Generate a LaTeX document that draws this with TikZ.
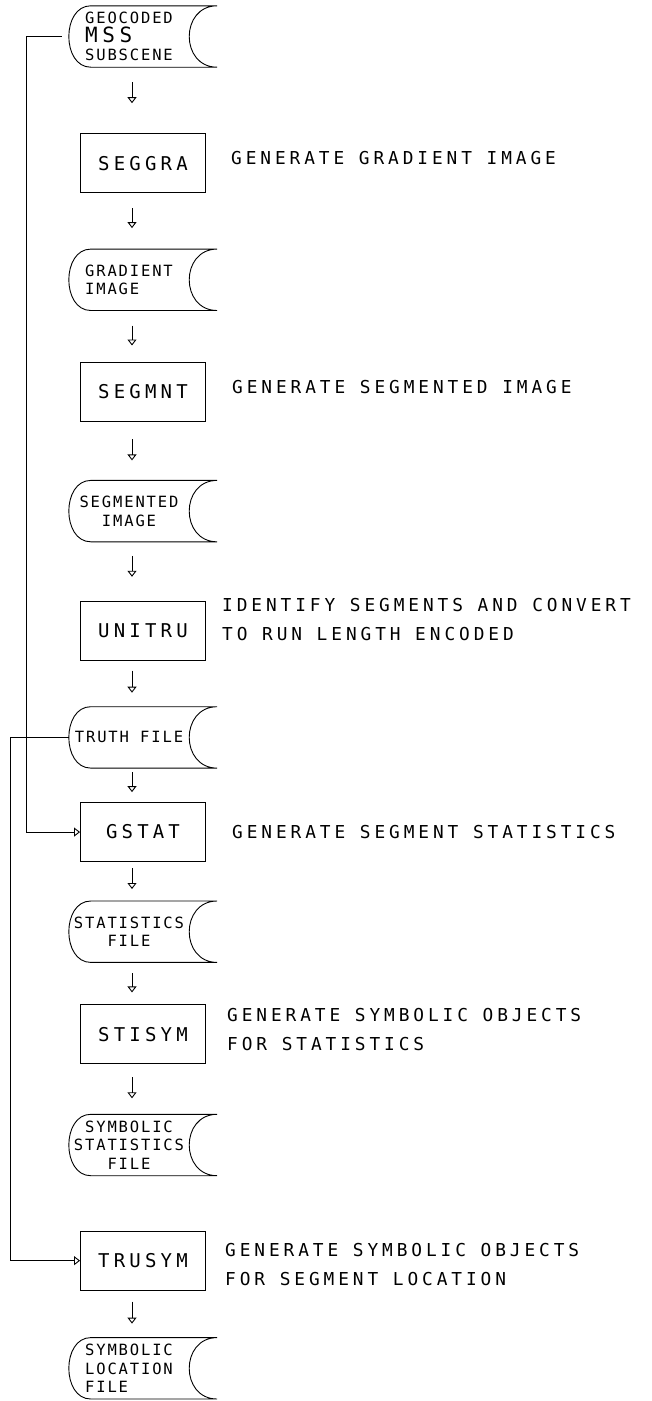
\documentclass[tikz,border=0pt]{standalone}
\usepackage{fontspec}
\usetikzlibrary{positioning,arrows.meta}
\newfontfamily\plotfont{DejaVu Sans Mono}[LetterSpace=22]
\newfontfamily\storefont{DejaVu Sans Mono}[LetterSpace=12]

% outline of a stored-data symbol round a node
\newcommand{\storeoutline}[1]{%
  \draw[line width=0.9pt] ([xshift=28pt]#1.north east) -- ([xshift=22pt]#1.north west)
    .. controls ([xshift=-7.3pt]#1.north west) and ([xshift=-7.3pt]#1.south west) .. ([xshift=22pt]#1.south west)
    -- ([xshift=28pt]#1.south east)
    .. controls ([xshift=-9.3pt]#1.south east) and ([xshift=-9.3pt]#1.north east) .. ([xshift=28pt]#1.north east);}

\begin{document}
\begin{tikzpicture}[
				stepbox/.style={rectangle, draw, line width=0.9pt, minimum width=125pt, minimum height=59pt, inner sep=2pt, font=\plotfont\fontsize{19}{22}\selectfont, xshift=14pt},
				store/.style={rectangle, minimum width=120pt, minimum height=61pt, inner sep=1pt, align=center, font=\storefont\fontsize{15.5}{18.5}\selectfont, xshift=-14pt},
				note/.style={inner sep=0pt, align=left, font=\plotfont\fontsize{17.8}{29}\selectfont},
				flow/.style={line width=0.9pt, -{Triangle[open, width=9pt, length=6pt]}},
				]
				\useasboundingbox (-143pt,36.5pt) rectangle (509pt,-1364.5pt);
				%Nodes
				\node[store, align=left](geo) at (0,0) {GEOCODED\\{\plotfont\fontsize{21}{18.5}\selectfont MSS}\\SUBSCENE};
				\node[stepbox](seggra)[below=66pt of geo]{SEGGRA};
				\node[store, align=left](gradient)[below=56pt of seggra]{GRADIENT\\IMAGE};
				\node[stepbox](segmnt)[below=51pt of gradient]{SEGMNT};
				\node[store](segmented)[below=59pt of segmnt]{SEGMENTED\\IMAGE};
				\node[stepbox](unitru)[below=59pt of segmented]{UNITRU};
				\node[store](truth)[below=46pt of unitru]{TRUTH FILE};
				\node[stepbox](gstat)[below=34pt of truth]{GSTAT};
				\node[store](statfile)[below=39pt of gstat]{STATISTICS\\FILE};
				\node[stepbox](stisym)[below=42pt of statfile]{STISYM};
				\node[store](symstat)[below=50pt of stisym]{SYMBOLIC\\STATISTICS\\FILE};
				\node[stepbox](trusym)[below=55pt of symstat]{TRUSYM};
				\node[store, align=left](locfile)[below=47pt of trusym]{SYMBOLIC\\LOCATION\\FILE};
				
				%Notes
				\node[note](seggranote)[right=25pt of seggra, yshift=5pt]{GENERATE GRADIENT IMAGE};
				\node[note](segmntnote)[right=26pt of segmnt, yshift=4pt]{GENERATE SEGMENTED IMAGE};
				\node[note](unitrunote)[right=16pt of unitru, yshift=11pt]{IDENTIFY SEGMENTS AND CONVERT\\TO RUN LENGTH ENCODED};
				\node[note](gstatnote)[right=26pt of gstat]{GENERATE SEGMENT STATISTICS};
				\node[note](stisymnote)[right=21pt of stisym, yshift=5pt]{GENERATE SYMBOLIC OBJECTS\\FOR STATISTICS};
				\node[note](trusymnote)[right=19pt of trusym, yshift=-4pt]{GENERATE SYMBOLIC OBJECTS\\FOR SEGMENT LOCATION};
				
				%Storage outlines
				\storeoutline{geo}
				\storeoutline{gradient}
				\storeoutline{segmented}
				\storeoutline{truth}
				\storeoutline{statfile}
				\storeoutline{symstat}
				\storeoutline{locfile}
				
				%Lines
				\coordinate (axis) at (-11pt,0);
				\coordinate (busa) at (-117pt,0);
				\coordinate (busb) at (-133pt,0);
				
				\draw[flow, shorten <=15pt, shorten >=30pt] (geo.south -| axis) -- (seggra.north -| axis);
				\draw[flow, shorten <=15pt, shorten >=21pt] (seggra.south -| axis) -- (gradient.north -| axis);
				\draw[flow, shorten <=15pt, shorten >=16pt] (gradient.south -| axis) -- (segmnt.north -| axis);
				\draw[flow, shorten <=18pt, shorten >=20pt] (segmnt.south -| axis) -- (segmented.north -| axis);
				\draw[flow, shorten <=14pt, shorten >=24pt] (segmented.south -| axis) -- (unitru.north -| axis);
				\draw[flow, shorten <=10pt, shorten >=14pt] (unitru.south -| axis) -- (truth.north -| axis);
				\draw[flow, shorten <=4pt, shorten >=10pt] (truth.south -| axis) -- (gstat.north -| axis);
				\draw[flow, shorten <=6pt, shorten >=12pt] (gstat.south -| axis) -- (statfile.north -| axis);
				\draw[flow, shorten <=11pt, shorten >=12pt] (statfile.south -| axis) -- (stisym.north -| axis);
				\draw[flow, shorten <=13pt, shorten >=16pt] (stisym.south -| axis) -- (symstat.north -| axis);
				\draw[flow, shorten <=11pt, shorten >=14pt] (trusym.south -| axis) -- (locfile.north -| axis);
				
				\draw[flow, shorten <=7pt] (geo.west) -- (geo.west -| busa) -- (gstat.west -| busa) -- (gstat.west);
				\draw[flow] (truth.west) -- (truth.west -| busb) -- (trusym.west -| busb) -- (trusym.west);
				
			\end{tikzpicture}
\end{document}
